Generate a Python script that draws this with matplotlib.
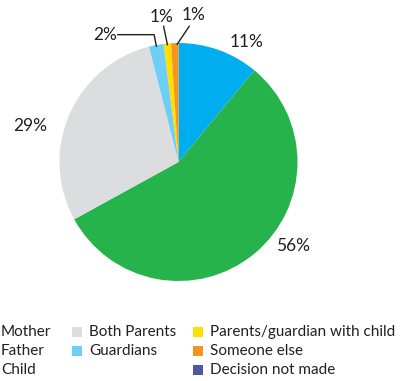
import numpy as np
import matplotlib.pyplot as plt
from matplotlib.patches import Rectangle

plt.rcParams['font.family'] = ['Lato', 'DejaVu Sans']

categories = ["Mother", "Father", "Child", "Both Parents", "Guardians",
              "Parents/guardian with child", "Someone else", "Decision not made"]
shares = [11, 56, 0, 29, 2, 1, 1, 0]
colors = ["#00aeef", "#27b34b", "#ee4d9b", "#dcddde", "#6dcff6",
          "#ffde00", "#f7941d", "#4d55a5"]
pct_labels = ["11%", "56%", "", "29%", "2%", "1%", "1%", ""]

W, H = 413, 381
fig = plt.figure(figsize=(W / 100, H / 100), dpi=100)

# pie centre and radius in pixels
cx, cy, r = 178.5, 162, 119
ax = fig.add_axes([(cx - r) / W, (H - cy - r) / H, 2 * r / W, 2 * r / H])
ax.set_aspect('equal')
ax.axis('off')

vals = [v for v in shares if v > 0]
cols = [c for v, c in zip(shares, colors) if v > 0]
wedges, _ = ax.pie(vals, colors=cols, startangle=90, counterclock=False,
                   radius=1, wedgeprops=dict(linewidth=0))
ax.set_xlim(-1, 1)
ax.set_ylim(-1, 1)


def mid_point(w, rad=1.0):
    a = np.deg2rad((w.theta1 + w.theta2) / 2)
    return rad * np.cos(a), rad * np.sin(a)


labs = [l for v, l in zip(shares, pct_labels) if v > 0]
fs = 12.5
tc = '#231f20'
# large slices: plain text outside the pie
ax.text(0.57, 1.01, labs[0], ha='center', va='center', fontsize=fs, color=tc)
ax.text(0.96, -0.71, labs[1], ha='center', va='center', fontsize=fs, color=tc)
ax.text(-1.25, 0.30, labs[2], ha='center', va='center', fontsize=fs, color=tc)

# small slices with leader lines
x0, y0 = mid_point(wedges[3], 0.99)
ax.plot([-0.51, -0.205, x0], [1.07, 1.07, y0], color=tc, lw=1.0, clip_on=False)
ax.text(-0.52, 1.07, labs[3], ha='right', va='center', fontsize=fs, color=tc)

x1, y1 = mid_point(wedges[4], 0.99)
ax.plot([-0.125, x1], [1.14, y1], color=tc, lw=1.0, clip_on=False)
ax.text(-0.145, 1.22, labs[4], ha='center', va='center', fontsize=fs, color=tc)

x2, y2 = mid_point(wedges[5], 0.99)
ax.plot([0.09, x2 + 0.02], [1.14, y2], color=tc, lw=1.0, clip_on=False)
ax.text(0.13, 1.235, labs[5], ha='center', va='center', fontsize=fs, color=tc)

# legend laid out in three fixed columns
col_x = [-16, 72, 193]
row_y = [332, 351, 370]
groups = [[0, 1, 2], [3, 4], [5, 6, 7]]
sq = 10
for gx, idx in zip(col_x, groups):
    for ry, i in zip(row_y, idx):
        fig.patches.append(Rectangle((gx / W, (H - ry - sq / 2) / H), sq / W, sq / H,
                                     transform=fig.transFigure, color=colors[i],
                                     linewidth=0))
        fig.text((gx + 17) / W, (H - ry) / H, categories[i], fontsize=11,
                 ha='left', va='center', color=tc)

fig.savefig('out.png', dpi=100)
